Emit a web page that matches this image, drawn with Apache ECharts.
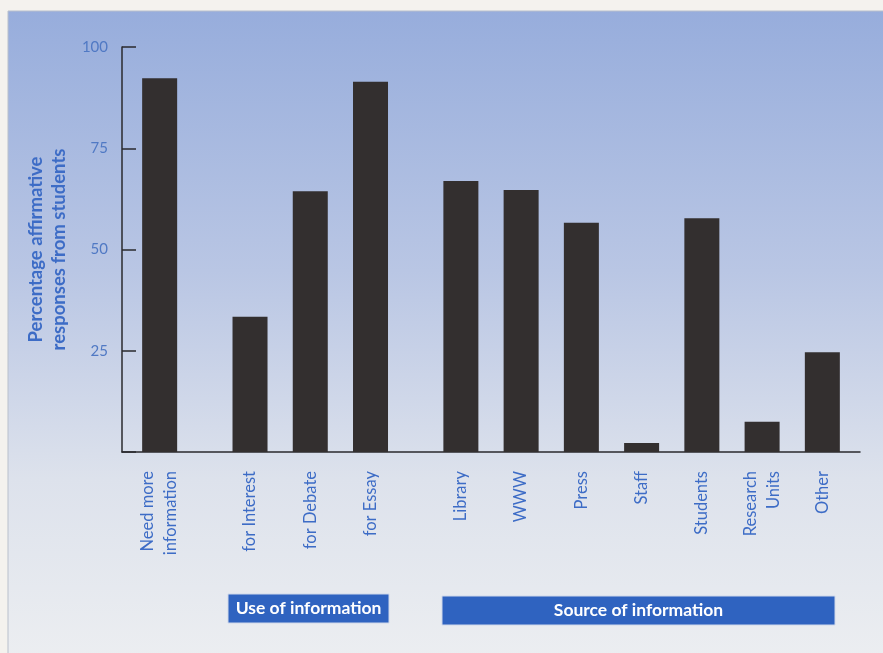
<!DOCTYPE html>
<html>
<head>
<meta charset="utf-8">
<script src="https://cdn.jsdelivr.net/npm/echarts@6/dist/echarts.min.js"></script>
<style>
  html, body { margin: 0; padding: 0; background: #f4f2ee; }
  #chart { width: 883px; height: 653px; }
</style>
</head>
<body>
<div id="chart"></div>
<script>
// chart data
const categories = ['Need more\ninformation', 'for Interest', 'for Debate', 'for Essay',
  'Library', 'WWW', 'Press', 'Staff', 'Students', 'Research\nUnits', 'Other']
const values = [92.3, 33.4, 64.4, 91.4, 66.9, 64.7, 56.6, 2.2, 57.7, 7.5, 24.6]
const groupStarts = [1, 4] // a wider gap opens before these categories
const yTicks = [0, 25, 50, 75, 100]
const groupTitles = ['Use of information', 'Source of information']

const blue = '#3d6cc6'
const font = 'Lato, "Open Sans", sans-serif'

// spread the bars out on a fine category axis, with blank slots between them
const axisData = ['', '']
const barData = [null, null]
categories.forEach((c, i) => {
  if (i > 0) {
    const pad = groupStarts.includes(i) ? 5 : 3
    for (let k = 0; k < pad; k++) { axisData.push(''); barData.push(null) }
  }
  axisData.push(c)
  barData.push(values[i])
})
axisData.push('', ''); barData.push(null, null)

const chart = echarts.init(document.getElementById('chart'))

function box(x, y, w, h, label) {
  return {
    type: 'group',
    children: [
      { type: 'rect', shape: { x: x, y: y, width: w, height: h },
        style: { fill: '#2f63c0', stroke: '#cfd8ea', lineWidth: 1 } },
      { type: 'text', x: x + w / 2, y: y + h / 2,
        style: { text: label, fill: '#ffffff', font: 'bold 17.5px ' + font,
          align: 'center', verticalAlign: 'middle' } }
    ]
  }
}

chart.setOption({
  backgroundColor: '#f4f2ee',
  animation: false,
  textStyle: { fontFamily: font },
  graphic: [
    { type: 'rect', z: -10, shape: { x: 8, y: 11, width: 880, height: 650 },
      style: {
        stroke: '#b9c0cc', lineWidth: 1,
        fill: new echarts.graphic.LinearGradient(0, 0, 0, 1, [
          { offset: 0, color: '#97addc' },
          { offset: 0.4, color: '#b9c6e4' },
          { offset: 0.72, color: '#dde2ec' },
          { offset: 1, color: '#eceef1' }
        ])
      } },
    box(228, 594, 161, 29, groupTitles[0]),
    box(442, 596, 393, 29, groupTitles[1])
  ],
  grid: { left: 122, top: 47, width: 738, height: 405 },
  xAxis: {
    type: 'category',
    data: axisData,
    axisLine: { lineStyle: { color: '#2a2a2e', width: 1.5 } },
    axisTick: { show: false },
    axisLabel: {
      interval: 0, rotate: 90, margin: 19,
      color: blue, fontSize: 16.5, lineHeight: 23, fontFamily: font
    }
  },
  yAxis: {
    type: 'value',
    min: yTicks[0], max: yTicks[yTicks.length - 1], interval: 25,
    splitLine: { show: false },
    axisLine: { show: true, lineStyle: { color: '#2a2a2e', width: 1.5 } },
    axisTick: { show: true, inside: true, length: 14, lineStyle: { color: '#2a2a2e', width: 1.5 } },
    axisLabel: {
      margin: 14, color: '#5079c4', fontSize: 15, fontFamily: font,
      formatter: (v) => (v === 0 ? '' : String(v))
    },
    name: 'Percentage affirmative\nresponses from students',
    nameLocation: 'middle',
    nameRotate: 90,
    nameGap: 50,
    nameTextStyle: { color: blue, fontSize: 18.5, fontWeight: 'bold', lineHeight: 23, fontFamily: font }
  },
  series: [
    {
      type: 'bar',
      data: barData,
      barWidth: 35,
      itemStyle: { color: '#332f2f' }
    }
  ]
})
</script>
</body>
</html>
